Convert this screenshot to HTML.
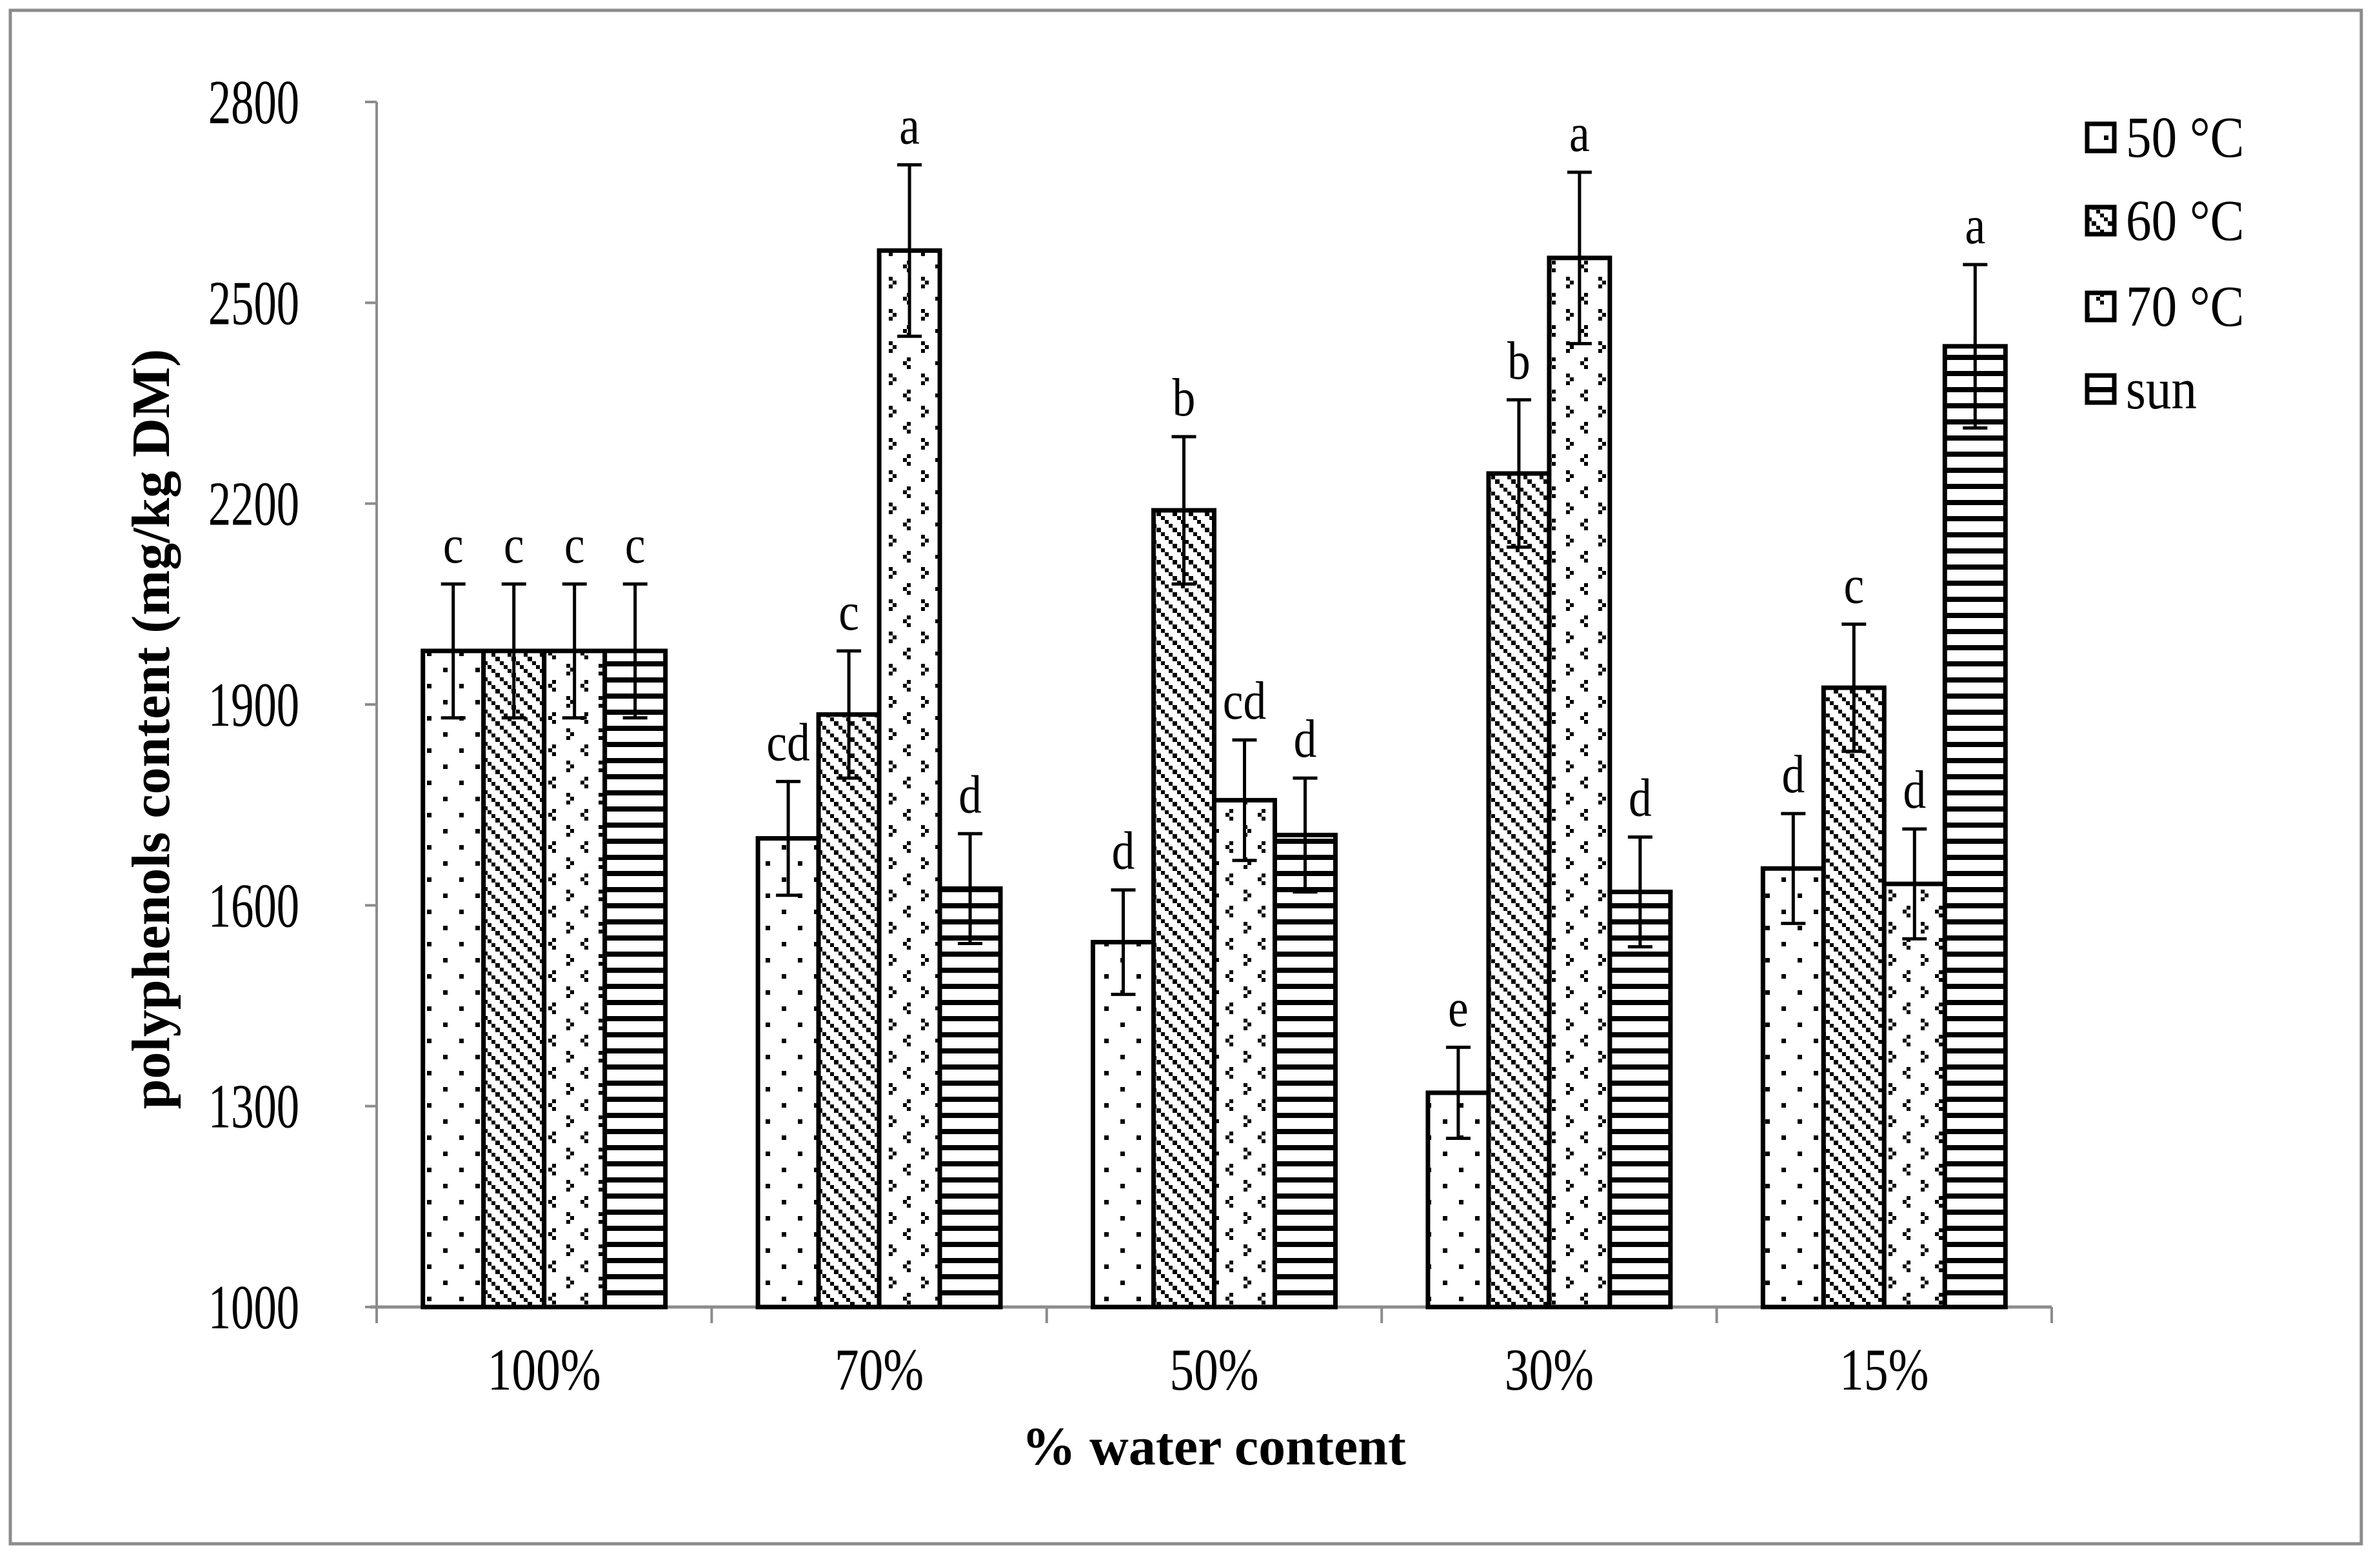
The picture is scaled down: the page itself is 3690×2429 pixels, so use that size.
<!DOCTYPE html>
<html><head><meta charset="utf-8">
<style>
html,body{margin:0;padding:0;background:#fff;}
svg{display:block;font-family:"Liberation Serif",serif;}
</style></head>
<body>
<svg id="chart" width="3690" height="2429" viewBox="0 0 3690 2429" xmlns="http://www.w3.org/2000/svg">
<defs>
<pattern id="p50" patternUnits="userSpaceOnUse" width="50" height="50" x="0" y="0">
<rect x="12" y="10" width="7" height="7" fill="#000"/><rect x="37" y="35" width="7" height="7" fill="#000"/>
</pattern>
<pattern id="p60" patternUnits="userSpaceOnUse" width="25" height="25">
<rect x="0" y="0" width="6" height="6" fill="#000"/><rect x="6" y="6" width="6" height="6" fill="#000"/><rect x="12" y="12" width="6" height="6" fill="#000"/><rect x="18" y="18" width="7" height="7" fill="#000"/>
</pattern>
<pattern id="p70" patternUnits="userSpaceOnUse" width="50" height="50">
<rect x="6" y="4" width="6" height="6" fill="#000"/><rect x="0" y="10" width="6" height="6" fill="#000"/><rect x="6" y="16" width="6" height="6" fill="#000"/>
<rect x="28" y="29" width="6" height="6" fill="#000"/><rect x="34" y="35" width="6" height="6" fill="#000"/><rect x="28" y="41" width="6" height="6" fill="#000"/>
</pattern>
<pattern id="psun" patternUnits="userSpaceOnUse" width="25" height="25">
<rect x="0" y="0" width="25" height="8" fill="#000"/>
</pattern>
</defs>
<rect x="16" y="16" width="3645" height="2377" fill="none" stroke="#8c8c8c" stroke-width="5"/>
<g id="plot"></g>
</svg>
<script>
const categories = ["100%","70%","50%","30%","15%"];
const seriesNames = ["50 °C","60 °C","70 °C","sun"];
const values50 = [1980,1700,1545,1320,1655];
const values60 = [1980,1885,2190,2245,1925];
const values70 = [1980,2578,1757,2567,1632];
const valuesSun = [1980,1625,1705,1620,2435];
const err50 = [100,85,78,68,82];
const err60 = [100,95,110,110,95];
const err70 = [100,128,90,128,82];
const errSun = [100,82,85,82,122];
const letters50 = ["c","cd","d","e","d"];
const letters60 = ["c","c","b","b","c"];
const letters70 = ["c","a","cd","a","d"];
const lettersSun = ["c","d","d","d","a"];
const yTicks = [1000,1300,1600,1900,2200,2500,2800];

const NS="http://www.w3.org/2000/svg";
const g=document.getElementById('plot');
const X0=584,X1=3181,Y0=2026,Y1=158,YMIN=1000,YMAX=2800;
const catW=(X1-X0)/categories.length, barW=94;
function y(v){return Y0-(v-YMIN)/(YMAX-YMIN)*(Y0-Y1);}
function catX(i){return X0+catW*i;}
function mk(tag,attrs,text){const e=document.createElementNS(NS,tag);for(const k in attrs)e.setAttribute(k,attrs[k]);if(text!==undefined)e.textContent=text;g.appendChild(e);return e;}

let ax=mk('line',{x1:X0,y1:Y1,x2:X0,y2:Y0,stroke:'#8c8c8c','stroke-width':4});


yTicks.forEach(t=>{
  const tk=mk('line',{x1:X0-18,y1:y(t),x2:X0,y2:y(t),stroke:'#8c8c8c','stroke-width':4});
  
  
  const tl=mk('text',{x:0,y:0,'font-size':98,'text-anchor':'end',transform:`translate(${X0-120},${y(t)+33}) scale(0.72,1)`},String(t));
  
  
});
let xa=mk('line',{x1:X0-10,y1:Y0,x2:X1,y2:Y0,stroke:'#8c8c8c','stroke-width':5});


for(let i=0;i<=categories.length;i++){
  const tk=mk('line',{x1:catX(i),y1:Y0,x2:catX(i),y2:Y0+25,stroke:'#8c8c8c','stroke-width':4});
  
  
}
categories.forEach((c,i)=>{
  const tl=mk('text',{x:0,y:0,'font-size':92,'text-anchor':'middle',transform:`translate(${catX(i)+catW/2},${Y0+128}) scale(0.82,1)`},c);
  
  
});

const series=[
 {vals:values50,errs:err50,lets:letters50,fill:'url(#p50)',name:'bar-50c'},
 {vals:values60,errs:err60,lets:letters60,fill:'url(#p60)',name:'bar-60c'},
 {vals:values70,errs:err70,lets:letters70,fill:'url(#p70)',name:'bar-70c'},
 {vals:valuesSun,errs:errSun,lets:lettersSun,fill:'url(#psun)',name:'bar-sun'}
];
series.forEach((s,si)=>{
  s.vals.forEach((v,i)=>{
    const bx=catX(i)+(catW-4*barW)/2+si*barW;
    const bg=mk('rect',{x:bx,y:y(v),width:barW,height:Y0-y(v),fill:'#fff'});
    
    
    const b=mk('rect',{x:bx,y:y(v),width:barW,height:Y0-y(v),fill:s.fill,stroke:'#000','stroke-width':7});
    
    
    const cx=bx+barW/2, top=y(v+s.errs[i]), bot=y(v-s.errs[i]);
    const eb=mk('path',{d:`M${cx},${top}V${bot}M${cx-19},${top}H${cx+19}M${cx-19},${bot}H${cx+19}`,stroke:'#000','stroke-width':5,fill:'none'});
    
    
    const lt=mk('text',{x:0,y:0,'font-size':84,'text-anchor':'middle',transform:`translate(${cx},${top-33}) scale(0.85,1)`},s.lets[i]);
    
    
  });
});

const legY=[213,342,475,603];
series.forEach((s,si)=>{
  const r=mk('rect',{x:3236,y:legY[si]-21,width:42,height:42,fill:s.fill,stroke:'#000','stroke-width':7});
  
  
  const t=mk('text',{x:0,y:0,'font-size':90,transform:`translate(3296,${legY[si]+30}) scale(0.88,1)`},seriesNames[si]);
  
  
});

const xt=mk('text',{x:1882,y:2270,'font-size':84,'font-weight':'bold','text-anchor':'middle'},'% water content');


const yt=mk('text',{x:0,y:0,'font-size':84,'font-weight':'bold','text-anchor':'middle',transform:'translate(262,1130) rotate(-90)'},'polyphenols content (mg/kg DM)');


</script>
</body></html>
